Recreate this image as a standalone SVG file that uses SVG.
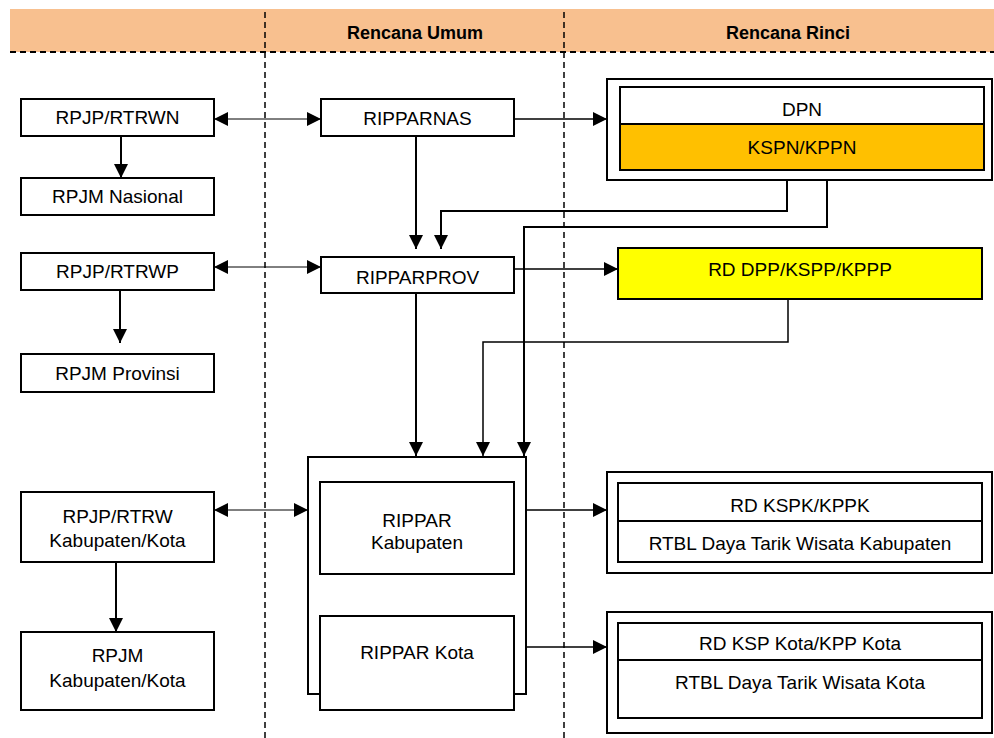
<svg xmlns="http://www.w3.org/2000/svg" width="994" height="738" viewBox="0 0 994 738">
<style>
.box{fill:#fff;stroke:#000;stroke-width:2}
.t{font-family:"Liberation Sans",Arial,sans-serif;font-size:19px;fill:#000;text-anchor:middle}
.h{font-family:"Liberation Sans",Arial,sans-serif;font-size:18px;font-weight:bold;fill:#000;text-anchor:middle}
.c{fill:none;stroke:#000;stroke-width:2}
.thin{fill:none;stroke:#000;stroke-width:1}
.mid{fill:none;stroke:#000;stroke-width:1.5}
.dash{fill:none;stroke:#000;stroke-width:1.5;stroke-dasharray:6 4}
</style>
<defs>
<marker id="ah" viewBox="0 0 14 14" refX="14" refY="7" markerWidth="14" markerHeight="14" markerUnits="userSpaceOnUse" orient="auto-start-reverse">
<path d="M0,0 L14,7 L0,14 z" fill="#000"/>
</marker>
<clipPath id="clipK"><rect x="618" y="623" width="364" height="28"/></clipPath>
</defs>
<rect width="994" height="738" fill="#fff"/>
<g id="header">
<rect x="10" y="9" width="984" height="43" fill="#F8C08F"/>
<line x1="10" y1="52" x2="994" y2="52" class="dash" style="stroke-width:2"/>
<line x1="265" y1="12" x2="265" y2="738" class="dash"/>
<line x1="564" y1="12" x2="564" y2="738" class="dash"/>
<text class="h" x="415" y="39">Rencana Umum</text>
<text class="h" x="788" y="39">Rencana Rinci</text>
</g>
<g id="connectors">
<line x1="214" y1="119" x2="321" y2="119" class="thin" marker-start="url(#ah)" marker-end="url(#ah)"/>
<line x1="214" y1="267" x2="321" y2="267" class="thin" marker-start="url(#ah)" marker-end="url(#ah)"/>
<line x1="214" y1="510" x2="308" y2="510" class="thin" marker-start="url(#ah)" marker-end="url(#ah)"/>
<line x1="121" y1="136" x2="121" y2="178" class="c" marker-end="url(#ah)"/>
<line x1="120" y1="290" x2="120" y2="343" class="c" marker-end="url(#ah)"/>
<line x1="116" y1="562" x2="116" y2="632" class="c" marker-end="url(#ah)"/>
<line x1="514" y1="119" x2="607" y2="119" class="mid" marker-end="url(#ah)"/>
<line x1="416" y1="136" x2="416" y2="249" class="c" marker-end="url(#ah)"/>
<polyline points="787,180 787,211 441,211 441,249" class="c" marker-end="url(#ah)"/>
<polyline points="827,180 827,227 524,227 524,456" class="c" marker-end="url(#ah)"/>
<line x1="514" y1="269" x2="618" y2="269" class="mid" marker-end="url(#ah)"/>
<line x1="416" y1="293" x2="416" y2="456" class="c" marker-end="url(#ah)"/>
<polyline points="788,299 788,342 483,342 483,456" class="mid" marker-end="url(#ah)"/>
<line x1="526" y1="510" x2="607" y2="510" class="mid" marker-end="url(#ah)"/>
<line x1="526" y1="647" x2="607" y2="647" class="mid" marker-end="url(#ah)"/>
</g>
<g id="rpjp-rtrwn"><rect class="box" x="21" y="99" width="193" height="37"/><text class="t" x="117.5" y="124">RPJP/RTRWN</text></g>
<g id="rpjm-nasional"><rect class="box" x="21" y="178" width="193" height="37"/><text class="t" x="117.5" y="203">RPJM Nasional</text></g>
<g id="rpjp-rtrwp"><rect class="box" x="21" y="253" width="193" height="37"/><text class="t" x="117.5" y="278">RPJP/RTRWP</text></g>
<g id="rpjm-provinsi"><rect class="box" x="21" y="354" width="193" height="38"/><text class="t" x="117.5" y="380">RPJM Provinsi</text></g>
<g id="rpjp-rtrw-kab"><rect class="box" x="21" y="492" width="193" height="70"/><text class="t" x="117.5" y="523">RPJP/RTRW</text><text class="t" x="117.5" y="547">Kabupaten/Kota</text></g>
<g id="rpjm-kab"><rect class="box" x="21" y="632" width="193" height="78"/><text class="t" x="117.5" y="662">RPJM</text><text class="t" x="117.5" y="687">Kabupaten/Kota</text></g>
<g id="ripparnas"><rect class="box" x="321" y="99" width="193" height="37"/><text class="t" x="417.5" y="125">RIPPARNAS</text></g>
<g id="ripparprov"><rect class="box" x="321" y="257" width="193" height="36"/><text class="t" x="417.5" y="284">RIPPARPROV</text></g>
<g id="rippar-group">
<rect class="box" x="308" y="457" width="218" height="237"/>
<g id="rippar-kabupaten"><rect class="box" x="320" y="482" width="194" height="92"/><text class="t" x="417" y="527">RIPPAR</text><text class="t" x="417" y="549">Kabupaten</text></g>
<g id="rippar-kota"><rect class="box" x="320" y="616" width="194" height="94"/><text class="t" x="417" y="659">RIPPAR Kota</text></g>
</g>
<g id="dpn-group">
<rect class="box" x="607" y="79" width="385" height="101"/>
<rect class="box" x="620" y="87" width="364" height="37"/>
<rect x="620" y="124" width="364" height="46" fill="#FFC000" stroke="#000" stroke-width="2"/>
<text class="t" x="802" y="116">DPN</text>
<text class="t" x="802" y="154">KSPN/KPPN</text>
</g>
<g id="rd-dpp"><rect x="618" y="248" width="364" height="51" fill="#FFFF00" stroke="#000" stroke-width="2"/><text class="t" x="800" y="276">RD DPP/KSPP/KPPP</text></g>
<g id="kspk-group">
<rect class="box" x="607" y="472" width="385" height="101"/>
<rect class="box" x="618" y="483" width="364" height="79"/>
<line x1="618" y1="521" x2="982" y2="521" class="c"/>
<text class="t" x="800" y="512">RD KSPK/KPPK</text>
<text class="t" x="800" y="550">RTBL Daya Tarik Wisata Kabupaten</text>
</g>
<g id="kota-group">
<rect class="box" x="607" y="612" width="385" height="121"/>
<rect class="box" x="618" y="623" width="364" height="95"/>
<line x1="618" y1="660" x2="982" y2="660" class="c"/>
<text class="t" x="800" y="650" clip-path="url(#clipK)">RD KSP Kota/KPP Kota</text>
<text class="t" x="800" y="689">RTBL Daya Tarik Wisata Kota</text>
</g>
</svg>
